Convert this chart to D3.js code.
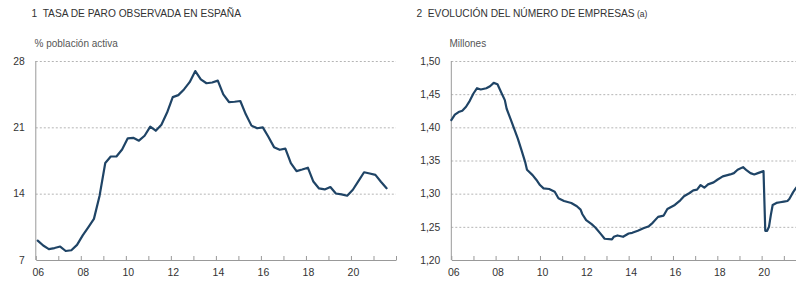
<!DOCTYPE html>
<html>
<head>
<meta charset="utf-8">
<script src="https://cdn.jsdelivr.net/npm/d3@7"></script>
<style>
  body { margin: 0; background: #fff; }
  svg { display: block; font-family: "Liberation Sans", Arial, Helvetica, sans-serif; }
  .title { white-space: pre; }
</style>
</head>
<body>
<svg id="chart" width="796" height="283"></svg>
<script>
// Gráfico 1: tasa de paro EPA (trimestral, % población activa)
const paroTrimestre = [
  "2006-1","2006-2","2006-3","2006-4","2007-1","2007-2","2007-3","2007-4",
  "2008-1","2008-2","2008-3","2008-4","2009-1","2009-2","2009-3","2009-4",
  "2010-1","2010-2","2010-3","2010-4","2011-1","2011-2","2011-3","2011-4",
  "2012-1","2012-2","2012-3","2012-4","2013-1","2013-2","2013-3","2013-4",
  "2014-1","2014-2","2014-3","2014-4","2015-1","2015-2","2015-3","2015-4",
  "2016-1","2016-2","2016-3","2016-4","2017-1","2017-2","2017-3","2017-4",
  "2018-1","2018-2","2018-3","2018-4","2019-1","2019-2","2019-3","2019-4",
  "2020-1","2020-2","2020-3","2020-4","2021-1","2021-2","2021-3"
];
const paroTasa = [
  9.05, 8.53, 8.15, 8.26, 8.42, 7.95, 8.03, 8.60,
  9.60, 10.44, 11.34, 13.79, 17.24, 17.92, 17.92, 18.66,
  19.84, 19.89, 19.59, 20.11, 21.08, 20.64, 21.28, 22.56,
  24.19, 24.40, 25.00, 25.77, 26.94, 26.06, 25.65, 25.73,
  25.93, 24.47, 23.67, 23.70, 23.78, 22.37, 21.18, 20.90,
  21.00, 20.00, 18.91, 18.63, 18.75, 17.22, 16.38, 16.55,
  16.74, 15.28, 14.55, 14.45, 14.70, 14.02, 13.92, 13.78,
  14.41, 15.33, 16.26, 16.13, 15.98, 15.26, 14.57
];
const paroTicks = [7, 14, 21, 28];

// Gráfico 2: número de empresas (millones)
const empresasMes = [
  "2006-01","2006-03","2006-05","2006-07","2006-09","2006-11","2007-01","2007-03",
  "2007-05","2007-08","2007-10","2007-12","2008-02","2008-04","2008-06","2008-07",
  "2008-09","2008-11","2009-01","2009-03","2009-05","2009-06","2009-09","2009-11",
  "2010-01","2010-03","2010-06","2010-09","2010-11","2011-02","2011-06","2011-09",
  "2011-11","2011-12","2012-02","2012-05","2012-07","2012-10","2012-12","2013-04",
  "2013-05","2013-07","2013-10","2014-01","2014-03","2014-06","2014-09","2014-12",
  "2015-02","2015-05","2015-08","2015-10","2016-02","2016-05","2016-07","2016-10",
  "2016-12","2017-02","2017-04","2017-06","2017-08","2017-11","2018-01","2018-04",
  "2018-08","2018-10","2018-12","2019-03","2019-05","2019-07","2019-09","2019-11",
  "2020-02","2020-03","2020-04","2020-05","2020-06","2020-07","2020-09","2020-11",
  "2021-01","2021-03","2021-04","2021-05","2021-06","2021-07","2021-08"
];
const empresasMillones = [
  1.411, 1.419, 1.423, 1.425, 1.431, 1.440, 1.451, 1.459,
  1.457, 1.459, 1.462, 1.467, 1.465, 1.453, 1.441, 1.428,
  1.413, 1.398, 1.383, 1.366, 1.348, 1.336, 1.328, 1.321,
  1.313, 1.308, 1.307, 1.303, 1.293, 1.289, 1.286, 1.281,
  1.276, 1.269, 1.260, 1.254, 1.249, 1.239, 1.232, 1.231,
  1.235, 1.237, 1.235, 1.240, 1.241, 1.244, 1.248, 1.251,
  1.256, 1.265, 1.267, 1.277, 1.283, 1.290, 1.296, 1.301,
  1.305, 1.306, 1.313, 1.309, 1.314, 1.317, 1.321, 1.326,
  1.329, 1.331, 1.336, 1.340, 1.335, 1.331, 1.329, 1.331,
  1.334, 1.244, 1.244, 1.250, 1.268, 1.283, 1.286, 1.287,
  1.288, 1.289, 1.292, 1.297, 1.302, 1.306, 1.310
];
const empresasTicks = [1.20, 1.25, 1.30, 1.35, 1.40, 1.45, 1.50];

const anosEtiqueta = [2006, 2008, 2010, 2012, 2014, 2016, 2018, 2020];

const lineColour = "#1f4466";
const svg = d3.select("#chart");

function panel(cfg) {
  const x = d3.scaleTime()
    .domain([new Date(2006, 0, 1), new Date(2022, 0, 1)])
    .range([cfg.left, cfg.right]);
  const y = d3.scaleLinear()
    .domain(cfg.yDomain)
    .range([260, 61]);

  // titles
  const t = svg.append("text")
    .attr("class", "title")
    .attr("x", cfg.titleX)
    .attr("y", 17)
    .attr("font-size", 10.2)
    .attr("fill", "#333")
    .text(cfg.title);
  if (cfg.titleNote) {
    t.append("tspan").attr("font-size", 8.5).text(" " + cfg.titleNote);
  }
  svg.append("text")
    .attr("x", cfg.unitX)
    .attr("y", 47)
    .attr("font-size", 10)
    .attr("fill", "#555")
    .text(cfg.unit);

  // gridlines + y labels
  const yAxis = d3.axisLeft(y)
    .tickValues(cfg.yTicks)
    .tickSize(-(Math.min(cfg.right, 796) - cfg.left))
    .tickPadding(11)
    .tickFormat(cfg.yFormat);
  const yG = svg.append("g")
    .attr("transform", `translate(${cfg.left},0)`)
    .call(yAxis)
    .call(g => g.select(".domain").remove());
  yG.selectAll(".tick line")
    .attr("stroke", "#b5b5b5")
    .attr("stroke-dasharray", "2,2")
    .filter(d => d === cfg.yDomain[0]).remove();
  yG.selectAll(".tick text")
    .attr("font-size", 10.3)
    .attr("fill", "#333")
    .attr("font-family", null);

  // y axis line
  svg.append("line")
    .attr("x1", cfg.left).attr("x2", cfg.left)
    .attr("y1", y(cfg.yDomain[1])).attr("y2", y(cfg.yDomain[0]))
    .attr("stroke", "#999");

  // x axis
  const xAxis = d3.axisBottom(x)
    .ticks(d3.timeYear.every(1))
    .tickSize(-4)
    .tickSizeOuter(0)
    .tickPadding(9)
    .tickFormat(d => anosEtiqueta.includes(d.getFullYear()) ? d3.timeFormat("%y")(d) : "");
  const xG = svg.append("g")
    .attr("transform", `translate(0,${y(cfg.yDomain[0])})`)
    .call(xAxis);
  xG.select(".domain").attr("stroke", "#999");
  xG.selectAll(".tick line").attr("stroke", "#999");
  xG.selectAll(".tick text")
    .attr("font-size", 10.5)
    .attr("fill", "#333")
    .attr("font-family", null)
    .attr("dx", 2);

  // series
  const line = d3.line()
    .x(d => x(d.date))
    .y(d => y(d.value));
  svg.append("path")
    .datum(cfg.data)
    .attr("fill", "none")
    .attr("stroke", lineColour)
    .attr("stroke-width", 2.2)
    .attr("stroke-linejoin", "round")
    .attr("stroke-linecap", "round")
    .attr("d", line);
}

const paroData = paroTrimestre.map((q, i) => {
  const [yr, tr] = q.split("-").map(Number);
  return { date: new Date(yr, (tr - 1) * 3 + 1, 1), value: paroTasa[i] };
});
const empresasData = empresasMes.map((m, i) => {
  const [yr, mo] = m.split("-").map(Number);
  return { date: new Date(yr, mo - 1, 1), value: empresasMillones[i] };
});

panel({
  left: 35.8, right: 396,
  yDomain: [7, 28], yTicks: paroTicks, yFormat: d3.format("d"),
  title: "1  TASA DE PARO OBSERVADA EN ESPAÑA", titleX: 31.5,
  unit: "% población activa", unitX: 34.5,
  data: paroData
});

panel({
  left: 451.3, right: 806,
  yDomain: [1.20, 1.50], yTicks: empresasTicks,
  yFormat: d => d3.format(".2f")(d).replace(".", ","),
  title: "2  EVOLUCIÓN DEL NÚMERO DE EMPRESAS", titleNote: "(a)", titleX: 416.5,
  unit: "Millones", unitX: 449.5,
  data: empresasData
});
</script>
</body>
</html>
